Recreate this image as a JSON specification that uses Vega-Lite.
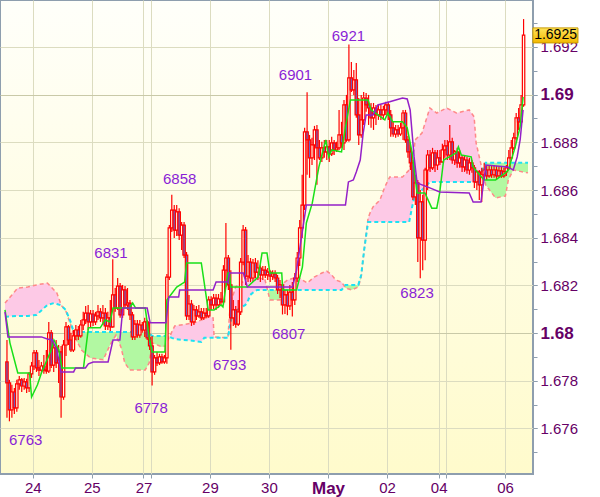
{
"$schema":"https://vega.github.io/schema/vega-lite/v6.json",
"width":533,"height":474,
"autosize":{"type":"none"},
"padding":{"left":0,"top":0,"right":67,"bottom":23},
"background":"#ffffff",
"view":{"fill":{"gradient":"linear","x1":0,"y1":0,"x2":0,"y2":1,"stops":[{"offset":0,"color":"#fffffa"},{"offset":1,"color":"#fffbcc"}]},"stroke":"#8e9eae","strokeWidth":2},
"datasets":{
"candles":[
{"t":0,"o":1.67879,"h":1.67971,"l":1.67645,"c":1.67791},
{"t":1,"o":1.67791,"h":1.67804,"l":1.6763,"c":1.67678},
{"t":2,"o":1.67678,"h":1.67783,"l":1.67645,"c":1.67753},
{"t":3,"o":1.67753,"h":1.6777,"l":1.67661,"c":1.67686},
{"t":4,"o":1.67686,"h":1.67804,"l":1.6767,"c":1.67787},
{"t":5,"o":1.67787,"h":1.6782,"l":1.67762,"c":1.67804},
{"t":6,"o":1.67804,"h":1.67812,"l":1.67753,"c":1.67778},
{"t":7,"o":1.67778,"h":1.67812,"l":1.67762,"c":1.67795},
{"t":8,"o":1.67795,"h":1.67808,"l":1.67749,"c":1.6777},
{"t":9,"o":1.6777,"h":1.67837,"l":1.67753,"c":1.67829},
{"t":10,"o":1.67829,"h":1.67879,"l":1.67812,"c":1.67862},
{"t":11,"o":1.67862,"h":1.67929,"l":1.67845,"c":1.67917},
{"t":12,"o":1.67917,"h":1.67929,"l":1.67837,"c":1.67854},
{"t":13,"o":1.67854,"h":1.67887,"l":1.6782,"c":1.67845},
{"t":14,"o":1.67845,"h":1.67879,"l":1.67829,"c":1.67862},
{"t":15,"o":1.67862,"h":1.67908,"l":1.67829,"c":1.67845},
{"t":16,"o":1.67845,"h":1.67929,"l":1.67829,"c":1.67841},
{"t":17,"o":1.67841,"h":1.68047,"l":1.67833,"c":1.68001},
{"t":18,"o":1.68001,"h":1.68013,"l":1.67854,"c":1.67866},
{"t":19,"o":1.67866,"h":1.67955,"l":1.67837,"c":1.67938},
{"t":20,"o":1.67938,"h":1.67971,"l":1.67854,"c":1.67875},
{"t":21,"o":1.67875,"h":1.6795,"l":1.67791,"c":1.67921},
{"t":22,"o":1.67921,"h":1.67946,"l":1.67645,"c":1.67732},
{"t":23,"o":1.67732,"h":1.67971,"l":1.6772,"c":1.6795},
{"t":24,"o":1.6795,"h":1.68047,"l":1.67904,"c":1.68026},
{"t":25,"o":1.68026,"h":1.68034,"l":1.6795,"c":1.67971},
{"t":26,"o":1.67971,"h":1.68001,"l":1.67921,"c":1.67929},
{"t":27,"o":1.67929,"h":1.68013,"l":1.67921,"c":1.67988},
{"t":28,"o":1.67988,"h":1.68034,"l":1.67971,"c":1.68013},
{"t":29,"o":1.68013,"h":1.6803,"l":1.67971,"c":1.67988},
{"t":30,"o":1.67988,"h":1.68055,"l":1.6798,"c":1.68034},
{"t":31,"o":1.68034,"h":1.68089,"l":1.68013,"c":1.68055},
{"t":32,"o":1.68055,"h":1.68114,"l":1.68038,"c":1.68084},
{"t":33,"o":1.68084,"h":1.68118,"l":1.68013,"c":1.68047},
{"t":34,"o":1.68047,"h":1.68097,"l":1.68022,"c":1.6808},
{"t":35,"o":1.6808,"h":1.68097,"l":1.6803,"c":1.68047},
{"t":36,"o":1.68047,"h":1.68089,"l":1.68034,"c":1.68072},
{"t":37,"o":1.68072,"h":1.68118,"l":1.68055,"c":1.68089},
{"t":38,"o":1.68089,"h":1.68105,"l":1.68047,"c":1.68064},
{"t":39,"o":1.68064,"h":1.68118,"l":1.68034,"c":1.68084},
{"t":40,"o":1.68084,"h":1.68105,"l":1.68013,"c":1.6803},
{"t":41,"o":1.6803,"h":1.68089,"l":1.68013,"c":1.68064},
{"t":42,"o":1.68064,"h":1.68139,"l":1.68009,"c":1.68026},
{"t":43,"o":1.68026,"h":1.6831,"l":1.68022,"c":1.6816},
{"t":44,"o":1.6816,"h":1.68189,"l":1.68089,"c":1.68105},
{"t":45,"o":1.68105,"h":1.68231,"l":1.68097,"c":1.68197},
{"t":46,"o":1.68197,"h":1.6821,"l":1.68064,"c":1.68076},
{"t":47,"o":1.68076,"h":1.68202,"l":1.68064,"c":1.68181},
{"t":48,"o":1.68181,"h":1.68197,"l":1.68105,"c":1.68118},
{"t":49,"o":1.68118,"h":1.68189,"l":1.68097,"c":1.68126},
{"t":50,"o":1.68126,"h":1.68139,"l":1.68055,"c":1.68076},
{"t":51,"o":1.68076,"h":1.68089,"l":1.67971,"c":1.67984},
{"t":52,"o":1.67984,"h":1.68055,"l":1.67971,"c":1.68038},
{"t":53,"o":1.68038,"h":1.68055,"l":1.6798,"c":1.67992},
{"t":54,"o":1.67992,"h":1.68055,"l":1.6798,"c":1.68034},
{"t":55,"o":1.68034,"h":1.68047,"l":1.68001,"c":1.68013},
{"t":56,"o":1.68013,"h":1.68064,"l":1.67984,"c":1.68047},
{"t":57,"o":1.68047,"h":1.68055,"l":1.67971,"c":1.6798},
{"t":58,"o":1.6798,"h":1.68047,"l":1.67929,"c":1.67946},
{"t":59,"o":1.67946,"h":1.67988,"l":1.6778,"c":1.67837},
{"t":60,"o":1.67837,"h":1.67908,"l":1.67825,"c":1.67896},
{"t":61,"o":1.67896,"h":1.67921,"l":1.67862,"c":1.67875},
{"t":62,"o":1.67875,"h":1.67913,"l":1.67866,"c":1.679},
{"t":63,"o":1.679,"h":1.67913,"l":1.67871,"c":1.67879},
{"t":64,"o":1.67879,"h":1.67908,"l":1.67871,"c":1.67896},
{"t":65,"o":1.67896,"h":1.68248,"l":1.67871,"c":1.68235},
{"t":66,"o":1.68235,"h":1.68453,"l":1.68223,"c":1.68441},
{"t":67,"o":1.68441,"h":1.6858,"l":1.68424,"c":1.68516},
{"t":68,"o":1.68516,"h":1.68537,"l":1.68399,"c":1.68432},
{"t":69,"o":1.68432,"h":1.68537,"l":1.68407,"c":1.68508},
{"t":70,"o":1.68508,"h":1.68524,"l":1.6839,"c":1.68411},
{"t":71,"o":1.68411,"h":1.68466,"l":1.68348,"c":1.68453},
{"t":72,"o":1.68453,"h":1.68466,"l":1.68315,"c":1.68327},
{"t":73,"o":1.68327,"h":1.6834,"l":1.68055,"c":1.68072},
{"t":74,"o":1.68072,"h":1.6816,"l":1.68055,"c":1.68122},
{"t":75,"o":1.68122,"h":1.68139,"l":1.6803,"c":1.68047},
{"t":76,"o":1.68047,"h":1.68118,"l":1.68034,"c":1.68097},
{"t":77,"o":1.68097,"h":1.68114,"l":1.68055,"c":1.68072},
{"t":78,"o":1.68072,"h":1.68118,"l":1.68064,"c":1.68089},
{"t":79,"o":1.68089,"h":1.68105,"l":1.68055,"c":1.68064},
{"t":80,"o":1.68064,"h":1.68105,"l":1.68055,"c":1.68084},
{"t":81,"o":1.68084,"h":1.68105,"l":1.68064,"c":1.68072},
{"t":82,"o":1.68072,"h":1.68155,"l":1.68064,"c":1.68139},
{"t":83,"o":1.68139,"h":1.68155,"l":1.68097,"c":1.68118},
{"t":84,"o":1.68118,"h":1.68164,"l":1.68101,"c":1.68147},
{"t":85,"o":1.68147,"h":1.68164,"l":1.68097,"c":1.68118},
{"t":86,"o":1.68118,"h":1.68164,"l":1.68105,"c":1.68143},
{"t":87,"o":1.68143,"h":1.68172,"l":1.68114,"c":1.68131},
{"t":88,"o":1.68131,"h":1.68285,"l":1.68118,"c":1.68264},
{"t":89,"o":1.68264,"h":1.68462,"l":1.68193,"c":1.68315},
{"t":90,"o":1.68315,"h":1.68327,"l":1.68181,"c":1.68202},
{"t":91,"o":1.68202,"h":1.68264,"l":1.6793,"c":1.68064},
{"t":92,"o":1.68064,"h":1.68139,"l":1.6803,"c":1.68097},
{"t":93,"o":1.68097,"h":1.68114,"l":1.68022,"c":1.68038},
{"t":94,"o":1.68038,"h":1.68139,"l":1.6803,"c":1.68089},
{"t":95,"o":1.68089,"h":1.68315,"l":1.68076,"c":1.68298},
{"t":96,"o":1.68298,"h":1.68453,"l":1.68285,"c":1.68432},
{"t":97,"o":1.68432,"h":1.68445,"l":1.68202,"c":1.68239},
{"t":98,"o":1.68239,"h":1.68327,"l":1.68214,"c":1.68298},
{"t":99,"o":1.68298,"h":1.68315,"l":1.68214,"c":1.68231},
{"t":100,"o":1.68231,"h":1.68311,"l":1.68214,"c":1.68294},
{"t":101,"o":1.68294,"h":1.68315,"l":1.68231,"c":1.68256},
{"t":102,"o":1.68256,"h":1.68306,"l":1.68223,"c":1.68273},
{"t":103,"o":1.68273,"h":1.68285,"l":1.68214,"c":1.68244},
{"t":104,"o":1.68244,"h":1.68281,"l":1.68223,"c":1.68264},
{"t":105,"o":1.68264,"h":1.68281,"l":1.68231,"c":1.68244},
{"t":106,"o":1.68244,"h":1.68273,"l":1.68223,"c":1.68256},
{"t":107,"o":1.68256,"h":1.68264,"l":1.68214,"c":1.68239},
{"t":108,"o":1.68239,"h":1.68264,"l":1.68223,"c":1.68248},
{"t":109,"o":1.68248,"h":1.68264,"l":1.68214,"c":1.68231},
{"t":110,"o":1.68231,"h":1.68244,"l":1.68164,"c":1.68181},
{"t":111,"o":1.68181,"h":1.68223,"l":1.68147,"c":1.68202},
{"t":112,"o":1.68202,"h":1.68214,"l":1.68078,"c":1.68118},
{"t":113,"o":1.68118,"h":1.68181,"l":1.6808,"c":1.6816},
{"t":114,"o":1.6816,"h":1.68181,"l":1.68075,"c":1.68114},
{"t":115,"o":1.68114,"h":1.68202,"l":1.68097,"c":1.68172},
{"t":116,"o":1.68172,"h":1.68214,"l":1.6807,"c":1.68139},
{"t":117,"o":1.68139,"h":1.68252,"l":1.68118,"c":1.68231},
{"t":118,"o":1.68231,"h":1.6834,"l":1.68214,"c":1.68315},
{"t":119,"o":1.68315,"h":1.68474,"l":1.68281,"c":1.68441},
{"t":120,"o":1.68441,"h":1.68664,"l":1.68399,"c":1.68537},
{"t":121,"o":1.68537,"h":1.68861,"l":1.68516,"c":1.68844},
{"t":122,"o":1.68844,"h":1.6901,"l":1.68664,"c":1.6881},
{"t":123,"o":1.6881,"h":1.68831,"l":1.68651,"c":1.68735},
{"t":124,"o":1.68735,"h":1.68819,"l":1.68705,"c":1.68789},
{"t":125,"o":1.68789,"h":1.68869,"l":1.68726,"c":1.68852},
{"t":126,"o":1.68852,"h":1.68873,"l":1.68622,"c":1.68777},
{"t":127,"o":1.68777,"h":1.6881,"l":1.68726,"c":1.68735},
{"t":128,"o":1.68735,"h":1.68802,"l":1.68718,"c":1.68777},
{"t":129,"o":1.68777,"h":1.6881,"l":1.68735,"c":1.6876},
{"t":130,"o":1.6876,"h":1.6881,"l":1.68726,"c":1.68781},
{"t":131,"o":1.68781,"h":1.6881,"l":1.68718,"c":1.68752},
{"t":132,"o":1.68752,"h":1.68823,"l":1.68743,"c":1.68798},
{"t":133,"o":1.68798,"h":1.6881,"l":1.68747,"c":1.68768},
{"t":134,"o":1.68768,"h":1.68802,"l":1.6876,"c":1.68777},
{"t":135,"o":1.68777,"h":1.68936,"l":1.68768,"c":1.68831},
{"t":136,"o":1.68831,"h":1.68886,"l":1.68777,"c":1.68798},
{"t":137,"o":1.68798,"h":1.68978,"l":1.68768,"c":1.68957},
{"t":138,"o":1.68957,"h":1.68999,"l":1.68802,"c":1.6881},
{"t":139,"o":1.6881,"h":1.6921,"l":1.68802,"c":1.6907},
{"t":140,"o":1.6907,"h":1.69137,"l":1.69011,"c":1.6902},
{"t":141,"o":1.6902,"h":1.69103,"l":1.68999,"c":1.69062},
{"t":142,"o":1.69062,"h":1.69133,"l":1.68903,"c":1.68915},
{"t":143,"o":1.68915,"h":1.68986,"l":1.68789,"c":1.68831},
{"t":144,"o":1.68831,"h":1.68999,"l":1.68819,"c":1.68894},
{"t":145,"o":1.68894,"h":1.69011,"l":1.68873,"c":1.68986},
{"t":146,"o":1.68986,"h":1.69007,"l":1.68928,"c":1.68957},
{"t":147,"o":1.68957,"h":1.68999,"l":1.68873,"c":1.68944},
{"t":148,"o":1.68944,"h":1.68965,"l":1.68861,"c":1.68903},
{"t":149,"o":1.68903,"h":1.68965,"l":1.68852,"c":1.68944},
{"t":150,"o":1.68944,"h":1.68957,"l":1.68873,"c":1.68915},
{"t":151,"o":1.68915,"h":1.68961,"l":1.68894,"c":1.68936},
{"t":152,"o":1.68936,"h":1.68957,"l":1.68894,"c":1.68915},
{"t":153,"o":1.68915,"h":1.68953,"l":1.68894,"c":1.68936},
{"t":154,"o":1.68936,"h":1.6897,"l":1.68915,"c":1.68957},
{"t":155,"o":1.68957,"h":1.6897,"l":1.68894,"c":1.68915},
{"t":156,"o":1.68915,"h":1.68936,"l":1.68823,"c":1.68861},
{"t":157,"o":1.68861,"h":1.68886,"l":1.68823,"c":1.68835},
{"t":158,"o":1.68835,"h":1.68873,"l":1.68819,"c":1.68852},
{"t":159,"o":1.68852,"h":1.68873,"l":1.68823,"c":1.68835},
{"t":160,"o":1.68835,"h":1.68882,"l":1.68827,"c":1.68861},
{"t":161,"o":1.68861,"h":1.68936,"l":1.6881,"c":1.68923},
{"t":162,"o":1.68923,"h":1.68936,"l":1.68798,"c":1.6881},
{"t":163,"o":1.6881,"h":1.68827,"l":1.68735,"c":1.6876},
{"t":164,"o":1.6876,"h":1.68789,"l":1.68684,"c":1.68714},
{"t":165,"o":1.68714,"h":1.68726,"l":1.68558,"c":1.68571},
{"t":166,"o":1.68571,"h":1.68664,"l":1.68537,"c":1.6863},
{"t":167,"o":1.6863,"h":1.68642,"l":1.68298,"c":1.68399},
{"t":168,"o":1.68399,"h":1.686,"l":1.6823,"c":1.6855},
{"t":169,"o":1.6855,"h":1.6858,"l":1.68264,"c":1.6839},
{"t":170,"o":1.6839,"h":1.68693,"l":1.68306,"c":1.68684},
{"t":171,"o":1.68684,"h":1.68768,"l":1.686,"c":1.68747},
{"t":172,"o":1.68747,"h":1.68768,"l":1.68676,"c":1.68693},
{"t":173,"o":1.68693,"h":1.68777,"l":1.68684,"c":1.68756},
{"t":174,"o":1.68756,"h":1.68768,"l":1.68676,"c":1.68705},
{"t":175,"o":1.68705,"h":1.68768,"l":1.68684,"c":1.68735},
{"t":176,"o":1.68735,"h":1.68768,"l":1.68705,"c":1.68718},
{"t":177,"o":1.68718,"h":1.68794,"l":1.68714,"c":1.68768},
{"t":178,"o":1.68768,"h":1.6881,"l":1.68735,"c":1.68785},
{"t":179,"o":1.68785,"h":1.6881,"l":1.68726,"c":1.68747},
{"t":180,"o":1.68747,"h":1.68873,"l":1.68726,"c":1.68802},
{"t":181,"o":1.68802,"h":1.68819,"l":1.6871,"c":1.68726},
{"t":182,"o":1.68726,"h":1.68768,"l":1.68705,"c":1.6876},
{"t":183,"o":1.6876,"h":1.68777,"l":1.68693,"c":1.68714},
{"t":184,"o":1.68714,"h":1.68768,"l":1.68693,"c":1.68735},
{"t":185,"o":1.68735,"h":1.68747,"l":1.68676,"c":1.68697},
{"t":186,"o":1.68697,"h":1.68747,"l":1.68676,"c":1.68726},
{"t":187,"o":1.68726,"h":1.68739,"l":1.68668,"c":1.68684},
{"t":188,"o":1.68684,"h":1.68735,"l":1.68664,"c":1.68714},
{"t":189,"o":1.68714,"h":1.68726,"l":1.68672,"c":1.68693},
{"t":190,"o":1.68693,"h":1.68705,"l":1.68609,"c":1.68634},
{"t":191,"o":1.68634,"h":1.68684,"l":1.686,"c":1.68676},
{"t":192,"o":1.68676,"h":1.68684,"l":1.68558,"c":1.68622},
{"t":193,"o":1.68622,"h":1.68693,"l":1.6855,"c":1.68664},
{"t":194,"o":1.68664,"h":1.68714,"l":1.68642,"c":1.68684},
{"t":195,"o":1.68684,"h":1.68705,"l":1.68642,"c":1.68659},
{"t":196,"o":1.68659,"h":1.68705,"l":1.68651,"c":1.68684},
{"t":197,"o":1.68684,"h":1.68701,"l":1.68651,"c":1.68664},
{"t":198,"o":1.68664,"h":1.68705,"l":1.68651,"c":1.68684},
{"t":199,"o":1.68684,"h":1.68701,"l":1.68642,"c":1.68659},
{"t":200,"o":1.68659,"h":1.68697,"l":1.68651,"c":1.6868},
{"t":201,"o":1.6868,"h":1.68701,"l":1.68651,"c":1.68659},
{"t":202,"o":1.68659,"h":1.68693,"l":1.68651,"c":1.68676},
{"t":203,"o":1.68676,"h":1.68705,"l":1.68659,"c":1.68693},
{"t":204,"o":1.68693,"h":1.68768,"l":1.68684,"c":1.68735},
{"t":205,"o":1.68735,"h":1.6881,"l":1.68726,"c":1.68777},
{"t":206,"o":1.68777,"h":1.6884,"l":1.68768,"c":1.68819},
{"t":207,"o":1.68819,"h":1.68923,"l":1.6881,"c":1.68903},
{"t":208,"o":1.68903,"h":1.68944,"l":1.68852,"c":1.68886},
{"t":209,"o":1.68886,"h":1.68999,"l":1.68873,"c":1.68957},
{"t":210,"o":1.68957,"h":1.69317,"l":1.68949,"c":1.6925}
],
"tenkan":[
{"t":-0.8,"v":1.68097},{"t":1.2,"v":1.67959},{"t":4.4,"v":1.67833},{"t":9.2,"v":1.67833},{"t":10.0,"v":1.67732},{"t":12.4,"v":1.67783},{"t":14.0,"v":1.67833},{"t":18.0,"v":1.67929},{"t":19.1,"v":1.67971},{"t":21.1,"v":1.67929},{"t":22.3,"v":1.67854},{"t":31.1,"v":1.67854},{"t":33.1,"v":1.68022},{"t":37.9,"v":1.68022},{"t":39.9,"v":1.68055},{"t":41.9,"v":1.68047},{"t":43.1,"v":1.68105},{"t":49.9,"v":1.68105},{"t":51.1,"v":1.68126},{"t":52.3,"v":1.68105},{"t":56.2,"v":1.68105},{"t":57.8,"v":1.67984},{"t":59.0,"v":1.67921},{"t":64.2,"v":1.67921},{"t":65.0,"v":1.68139},{"t":69.0,"v":1.68193},{"t":72.2,"v":1.68214},{"t":73.0,"v":1.68294},{"t":79.0,"v":1.68294},{"t":81.8,"v":1.68097},{"t":84.2,"v":1.68097},{"t":87.0,"v":1.68118},{"t":87.8,"v":1.6811},{"t":89.8,"v":1.68252},{"t":90.5,"v":1.68252},{"t":90.9,"v":1.68193},{"t":97.7,"v":1.68193},{"t":102.1,"v":1.68235},{"t":103.7,"v":1.68336},{"t":105.7,"v":1.68336},{"t":106.9,"v":1.68252},{"t":111.7,"v":1.68252},{"t":112.1,"v":1.68181},{"t":117.7,"v":1.68181},{"t":120.1,"v":1.68277},{"t":121.7,"v":1.68462},{"t":124.1,"v":1.68545},{"t":126.8,"v":1.68697},{"t":129.6,"v":1.6881},{"t":130.8,"v":1.68739},{"t":132.0,"v":1.68768},{"t":136.0,"v":1.6876},{"t":137.6,"v":1.68865},{"t":139.6,"v":1.68978},{"t":146.8,"v":1.68978},{"t":148.0,"v":1.68936},{"t":150.8,"v":1.68915},{"t":153.6,"v":1.68894},{"t":154.8,"v":1.68923},{"t":156.8,"v":1.68886},{"t":160.8,"v":1.68886},{"t":162.7,"v":1.68861},{"t":164.7,"v":1.68756},{"t":166.7,"v":1.68588},{"t":169.9,"v":1.68588},{"t":172.7,"v":1.68524},{"t":174.7,"v":1.68524},{"t":175.9,"v":1.68588},{"t":177.5,"v":1.68726},{"t":182.7,"v":1.68756},{"t":183.5,"v":1.68781},{"t":184.7,"v":1.68747},{"t":188.7,"v":1.68739},{"t":189.5,"v":1.68697},{"t":193.9,"v":1.68642},{"t":198.6,"v":1.68642},{"t":202.6,"v":1.68672},{"t":203.8,"v":1.68684},{"t":206.6,"v":1.68781},{"t":208.6,"v":1.68865},{"t":209.8,"v":1.6899}
],
"kijun":[
{"t":-0.8,"v":1.68089},{"t":0.4,"v":1.67984},{"t":14.0,"v":1.67984},{"t":16.4,"v":1.67975},{"t":18.4,"v":1.67971},{"t":20.3,"v":1.67929},{"t":21.9,"v":1.67837},{"t":27.1,"v":1.67837},{"t":27.9,"v":1.67854},{"t":31.9,"v":1.67854},{"t":33.1,"v":1.67871},{"t":35.1,"v":1.67879},{"t":41.1,"v":1.67879},{"t":43.1,"v":1.67971},{"t":45.9,"v":1.67971},{"t":47.1,"v":1.68105},{"t":57.0,"v":1.68105},{"t":58.2,"v":1.68043},{"t":64.6,"v":1.68043},{"t":65.8,"v":1.68151},{"t":69.8,"v":1.68151},{"t":70.2,"v":1.68181},{"t":83.8,"v":1.68181},{"t":85.0,"v":1.68214},{"t":89.8,"v":1.68214},{"t":90.5,"v":1.68252},{"t":96.1,"v":1.68252},{"t":97.7,"v":1.68193},{"t":116.1,"v":1.68193},{"t":117.7,"v":1.68264},{"t":121.7,"v":1.68537},{"t":137.6,"v":1.68537},{"t":138.8,"v":1.68634},{"t":140.8,"v":1.68642},{"t":142.0,"v":1.68676},{"t":143.6,"v":1.68726},{"t":144.8,"v":1.68839},{"t":146.0,"v":1.68915},{"t":148.8,"v":1.68915},{"t":150.8,"v":1.68957},{"t":155.6,"v":1.6897},{"t":160.8,"v":1.68986},{"t":162.7,"v":1.68982},{"t":163.9,"v":1.68936},{"t":165.5,"v":1.68739},{"t":166.7,"v":1.6863},{"t":171.9,"v":1.68609},{"t":175.9,"v":1.68592},{"t":187.9,"v":1.68588},{"t":189.5,"v":1.6855},{"t":192.7,"v":1.6855},{"t":194.7,"v":1.68705},{"t":203.4,"v":1.68697},{"t":205.8,"v":1.68684},{"t":207.4,"v":1.68739},{"t":208.6,"v":1.6881},{"t":209.8,"v":1.68936}
],
"cloud":[
{"t":-0.8,"a":1.68068,"b":1.68126,"s":1,"k":"bear"},
{"t":4.4,"a":1.68072,"b":1.68189,"s":1,"k":"bear"},
{"t":8.4,"a":1.68072,"b":1.68193,"s":1,"k":"bear"},
{"t":12.0,"a":1.68076,"b":1.68202,"s":1,"k":"bear"},
{"t":16.4,"a":1.68118,"b":1.6821,"s":1,"k":"bear"},
{"t":19.1,"a":1.68126,"b":1.68181,"s":1,"k":"bear"},
{"t":20.3,"a":1.68122,"b":1.68168,"s":1,"k":"bear"},
{"t":22.1,"a":1.68116,"b":1.68116,"s":1,"k":"bear"},
{"t":22.1,"a":1.68116,"b":1.68116,"s":2,"k":"bull"},
{"t":23.9,"a":1.68097,"b":1.68093,"s":2,"k":"bull"},
{"t":25.9,"a":1.68047,"b":1.68034,"s":2,"k":"bull"},
{"t":27.1,"a":1.68005,"b":1.67992,"s":2,"k":"bull"},
{"t":30.3,"a":1.68005,"b":1.67929,"s":2,"k":"bull"},
{"t":33.9,"a":1.68005,"b":1.67896,"s":2,"k":"bull"},
{"t":39.1,"a":1.68005,"b":1.67888,"s":2,"k":"bull"},
{"t":41.9,"a":1.68005,"b":1.6795,"s":2,"k":"bull"},
{"t":43.1,"a":1.68005,"b":1.67971,"s":2,"k":"bull"},
{"t":44.3,"a":1.68005,"b":1.67992,"s":2,"k":"bull"},
{"t":46.3,"a":1.68005,"b":1.67942,"s":2,"k":"bull"},
{"t":47.9,"a":1.68005,"b":1.67875,"s":2,"k":"bull"},
{"t":49.9,"a":1.68005,"b":1.67845,"s":2,"k":"bull"},
{"t":56.2,"a":1.68001,"b":1.67845,"s":2,"k":"bull"},
{"t":57.8,"a":1.68001,"b":1.67875,"s":2,"k":"bull"},
{"t":59.0,"a":1.67988,"b":1.67959,"s":2,"k":"bull"},
{"t":63.0,"a":1.67988,"b":1.67942,"s":2,"k":"bull"},
{"t":64.2,"a":1.67988,"b":1.67946,"s":2,"k":"bull"},
{"t":65.8,"a":1.67988,"b":1.6798,"s":2,"k":"bull"},
{"t":66.2,"a":1.67984,"b":1.67984,"s":2,"k":"bull"},
{"t":66.2,"a":1.67984,"b":1.67984,"s":3,"k":"bear"},
{"t":67.0,"a":1.6798,"b":1.68005,"s":3,"k":"bear"},
{"t":68.2,"a":1.67975,"b":1.6803,"s":3,"k":"bear"},
{"t":76.2,"a":1.67967,"b":1.68043,"s":3,"k":"bear"},
{"t":79.0,"a":1.67963,"b":1.68055,"s":3,"k":"bear"},
{"t":80.2,"a":1.6798,"b":1.68059,"s":3,"k":"bear"},
{"t":81.8,"a":1.6798,"b":1.68068,"s":3,"k":"bear"},
{"t":83.8,"a":1.6798,"b":1.68064,"s":3,"k":"bear"},
{"t":84.2,"a":1.6798,"b":1.67984,"s":3,"k":"bear"},
{"t":89.8,"a":1.6798,"b":1.6798,"s":3,"k":"bear"},
{"t":90.9,"a":1.68043,"b":1.68139,"s":3,"k":"bear"},
{"t":91.7,"a":1.68084,"b":1.68151,"s":3,"k":"bear"},
{"t":92.9,"a":1.68093,"b":1.68193,"s":3,"k":"bear"},
{"t":96.9,"a":1.68118,"b":1.68223,"s":3,"k":"bear"},
{"t":98.1,"a":1.68139,"b":1.68235,"s":3,"k":"bear"},
{"t":98.9,"a":1.6816,"b":1.68235,"s":3,"k":"bear"},
{"t":100.9,"a":1.68177,"b":1.68239,"s":3,"k":"bear"},
{"t":101.7,"a":1.68181,"b":1.68235,"s":3,"k":"bear"},
{"t":104.9,"a":1.68181,"b":1.68223,"s":3,"k":"bear"},
{"t":105.9,"a":1.68181,"b":1.68181,"s":3,"k":"bear"},
{"t":105.9,"a":1.68181,"b":1.68181,"s":4,"k":"bull"},
{"t":106.9,"a":1.68181,"b":1.68139,"s":4,"k":"bull"},
{"t":110.9,"a":1.68181,"b":1.68139,"s":4,"k":"bull"},
{"t":111.8,"a":1.68181,"b":1.68181,"s":4,"k":"bull"},
{"t":111.8,"a":1.68181,"b":1.68181,"s":5,"k":"bear"},
{"t":112.5,"a":1.68181,"b":1.6821,"s":5,"k":"bear"},
{"t":114.1,"a":1.68181,"b":1.68223,"s":5,"k":"bear"},
{"t":118.1,"a":1.68181,"b":1.68235,"s":5,"k":"bear"},
{"t":122.1,"a":1.68181,"b":1.6821,"s":5,"k":"bear"},
{"t":124.9,"a":1.68181,"b":1.68235,"s":5,"k":"bear"},
{"t":128.0,"a":1.68181,"b":1.68252,"s":5,"k":"bear"},
{"t":130.0,"a":1.68181,"b":1.6826,"s":5,"k":"bear"},
{"t":132.0,"a":1.68181,"b":1.68244,"s":5,"k":"bear"},
{"t":133.6,"a":1.68181,"b":1.68223,"s":5,"k":"bear"},
{"t":136.0,"a":1.68181,"b":1.68214,"s":5,"k":"bear"},
{"t":137.2,"a":1.68196,"b":1.68196,"s":5,"k":"bear"},
{"t":137.2,"a":1.68196,"b":1.68196,"s":6,"k":"bull"},
{"t":137.6,"a":1.68202,"b":1.68189,"s":6,"k":"bull"},
{"t":140.0,"a":1.68202,"b":1.68181,"s":6,"k":"bull"},
{"t":142.8,"a":1.68202,"b":1.68193,"s":6,"k":"bull"},
{"t":144.0,"a":1.68244,"b":1.68235,"s":6,"k":"bull"},
{"t":145.2,"a":1.68349,"b":1.68349,"s":6,"k":"bull"},
{"t":145.2,"a":1.68349,"b":1.68349,"s":7,"k":"bear"},
{"t":146.8,"a":1.68466,"b":1.68483,"s":7,"k":"bear"},
{"t":147.6,"a":1.68466,"b":1.68504,"s":7,"k":"bear"},
{"t":148.8,"a":1.68466,"b":1.68529,"s":7,"k":"bear"},
{"t":151.6,"a":1.68466,"b":1.68558,"s":7,"k":"bear"},
{"t":153.6,"a":1.68466,"b":1.68613,"s":7,"k":"bear"},
{"t":155.6,"a":1.68466,"b":1.68655,"s":7,"k":"bear"},
{"t":160.8,"a":1.68466,"b":1.68655,"s":7,"k":"bear"},
{"t":163.5,"a":1.68466,"b":1.68684,"s":7,"k":"bear"},
{"t":164.7,"a":1.68529,"b":1.68739,"s":7,"k":"bear"},
{"t":165.5,"a":1.68567,"b":1.68768,"s":7,"k":"bear"},
{"t":165.9,"a":1.68571,"b":1.6881,"s":7,"k":"bear"},
{"t":168.7,"a":1.686,"b":1.68839,"s":7,"k":"bear"},
{"t":171.9,"a":1.68634,"b":1.68944,"s":7,"k":"bear"},
{"t":174.7,"a":1.68634,"b":1.68923,"s":7,"k":"bear"},
{"t":178.7,"a":1.68634,"b":1.68944,"s":7,"k":"bear"},
{"t":182.7,"a":1.68634,"b":1.68923,"s":7,"k":"bear"},
{"t":187.9,"a":1.68634,"b":1.68936,"s":7,"k":"bear"},
{"t":189.9,"a":1.68634,"b":1.68907,"s":7,"k":"bear"},
{"t":190.7,"a":1.68634,"b":1.68798,"s":7,"k":"bear"},
{"t":193.2,"a":1.68684,"b":1.68684,"s":7,"k":"bear"},
{"t":193.2,"a":1.68684,"b":1.68684,"s":8,"k":"bull"},
{"t":194.6,"a":1.68714,"b":1.68621,"s":8,"k":"bull"},
{"t":198.6,"a":1.68714,"b":1.68567,"s":8,"k":"bull"},
{"t":202.6,"a":1.68714,"b":1.68575,"s":8,"k":"bull"},
{"t":203.8,"a":1.68714,"b":1.68642,"s":8,"k":"bull"},
{"t":205.8,"a":1.68714,"b":1.68684,"s":8,"k":"bull"},
{"t":209.8,"a":1.68714,"b":1.68676,"s":8,"k":"bull"},
{"t":211.8,"a":1.68714,"b":1.68672,"s":8,"k":"bull"}
],
"extremes":[
{"t":7.6,"p":1.67552,"s":"6763"},
{"t":58.6,"p":1.67686,"s":"6778"},
{"t":42.3,"p":1.68336,"s":"6831"},
{"t":70.2,"p":1.68647,"s":"6858"},
{"t":90.5,"p":1.67866,"s":"6793"},
{"t":114.5,"p":1.67996,"s":"6807"},
{"t":117.3,"p":1.69083,"s":"6901"},
{"t":138.8,"p":1.69246,"s":"6921"},
{"t":166.7,"p":1.68168,"s":"6823"}
],
"last":[{"p":1.6925,"s":"1.6925"}]
},
"resolve":{"axis":{"y":"independent"}},
"layer":[
{"layer":[
{"data":{"name":"cloud"},
 "mark":{"type":"area","opacity":1},
 "encoding":{
  "x":{"field":"t","type":"quantitative","title":null,"scale":{"domain":[-0.8,211.8],"nice":false,"zero":false},
   "axis":{"orient":"bottom","values":[10.5,34.5,55.5,58.5,82.5,106.5,130.5,154.5,175.5,178.5,202.5],
    "labelExpr":"datum.value==10.5?'24':datum.value==34.5?'25':datum.value==55.5?'27':datum.value==82.5?'29':datum.value==106.5?'30':datum.value==130.5?'May':datum.value==154.5?'02':datum.value==175.5?'04':datum.value==202.5?'06':''",
    "labelFont":"Liberation Sans","labelFontSize":{"condition":{"test":"datum.value==130.5","value":17},"value":15},
    "labelFontWeight":{"condition":{"test":"datum.value==130.5","value":"bold"},"value":"normal"},
    "labelColor":"#660066","labelPadding":2,"tickSize":4,"tickColor":"#8e9eae","domain":false,
    "grid":true,"gridColor":"#dcdcc0","gridWidth":1,"labelOverlap":false,"labelFlush":false,"title":null}},
  "y":{"field":"a","type":"quantitative","title":null,"scale":{"domain":[1.67409,1.69397],"nice":false,"zero":false},
   "axis":{"orient":"right","values":[1.676,1.678,1.68,1.682,1.684,1.686,1.688,1.69,1.692],
    "format":".3~f",
    "labelFont":"Liberation Sans","labelFontSize":{"condition":{"test":"datum.value==1.69||datum.value==1.68","value":17},"value":15},
    "labelFontWeight":{"condition":{"test":"datum.value==1.69||datum.value==1.68","value":"bold"},"value":"normal"},
    "labelColor":"#660066","labelPadding":3,"tickSize":4,"tickColor":"#8e9eae","domain":false,
    "grid":true,"gridColor":{"condition":{"test":"datum.value==1.69||datum.value==1.68","value":"#c9c9a8"},"value":"#dcdcc0"},
    "labelOverlap":false,"labelFlush":false,"title":null}},
  "y2":{"field":"b"},
  "detail":{"field":"s","type":"nominal"},
  "color":{"field":"k","type":"nominal","scale":{"domain":["bear","bull"],"range":["#fdc9e6","#b2f8a2"]},"legend":null}
 }},
{"data":{"name":"cloud"},
 "mark":{"type":"line","color":"#ff8888","strokeWidth":1.5,"strokeDash":[4,3]},
 "encoding":{
  "x":{"field":"t","type":"quantitative","title":null,"scale":{"domain":[-0.8,211.8],"nice":false,"zero":false}},
  "y":{"field":"b","type":"quantitative","title":null,"scale":{"domain":[1.67409,1.69397],"nice":false,"zero":false}}
 }},
{"data":{"name":"cloud"},
 "mark":{"type":"line","color":"#1ee2f2","strokeWidth":2,"strokeDash":[4,3]},
 "encoding":{
  "x":{"field":"t","type":"quantitative","title":null,"scale":{"domain":[-0.8,211.8],"nice":false,"zero":false}},
  "y":{"field":"a","type":"quantitative","title":null,"scale":{"domain":[1.67409,1.69397],"nice":false,"zero":false}}
 }},
{"data":{"name":"candles"},
 "mark":{"type":"rule","color":"#ff0000","strokeWidth":1.2},
 "encoding":{
  "x":{"field":"t","type":"quantitative","title":null,"scale":{"domain":[-0.8,211.8],"nice":false,"zero":false}},
  "y":{"field":"l","type":"quantitative","title":null,"scale":{"domain":[1.67409,1.69397],"nice":false,"zero":false}},
  "y2":{"field":"h"}
 }},
{"data":{"name":"candles"},
 "mark":{"type":"bar","width":2.4,"stroke":"#ff0000","strokeWidth":1.2},
 "encoding":{
  "x":{"field":"t","type":"quantitative","title":null,"scale":{"domain":[-0.8,211.8],"nice":false,"zero":false}},
  "y":{"field":"o","type":"quantitative","title":null,"scale":{"domain":[1.67409,1.69397],"nice":false,"zero":false}},
  "y2":{"field":"c"},
  "fill":{"condition":{"test":"datum.c<datum.o","value":"#7060c0"},"value":"#fffde8"}
 }},
{"data":{"name":"tenkan"},
 "mark":{"type":"line","color":"#18e018","strokeWidth":1.5},
 "encoding":{
  "x":{"field":"t","type":"quantitative","title":null,"scale":{"domain":[-0.8,211.8],"nice":false,"zero":false}},
  "y":{"field":"v","type":"quantitative","title":null,"scale":{"domain":[1.67409,1.69397],"nice":false,"zero":false}}
 }},
{"data":{"name":"kijun"},
 "mark":{"type":"line","color":"#9420c8","strokeWidth":1.5},
 "encoding":{
  "x":{"field":"t","type":"quantitative","title":null,"scale":{"domain":[-0.8,211.8],"nice":false,"zero":false}},
  "y":{"field":"v","type":"quantitative","title":null,"scale":{"domain":[1.67409,1.69397],"nice":false,"zero":false}}
 }},
{"data":{"name":"extremes"},
 "mark":{"type":"text","font":"Liberation Sans","fontSize":15,"color":"#8a1fd6","align":"center","baseline":"middle"},
 "encoding":{
  "x":{"field":"t","type":"quantitative","title":null,"scale":{"domain":[-0.8,211.8],"nice":false,"zero":false}},
  "y":{"field":"p","type":"quantitative","title":null,"scale":{"domain":[1.67409,1.69397],"nice":false,"zero":false}},
  "text":{"field":"s","type":"nominal"}
 }},
{"data":{"name":"last"},
 "mark":{"type":"rect","stroke":"#c89a00","strokeWidth":1,"color":{"gradient":"linear","x1":0,"y1":0,"x2":0,"y2":1,"stops":[{"offset":0,"color":"#ffe45a"},{"offset":1,"color":"#f2b800"}]}},
 "encoding":{
  "x":{"datum":213.8,"type":"quantitative","title":null,"scale":{"domain":[-0.8,211.8],"nice":false,"zero":false}},
  "x2":{"datum":232.1},
  "y":{"datum":1.6928,"type":"quantitative","title":null,"scale":{"domain":[1.67409,1.69397],"nice":false,"zero":false}},
  "y2":{"datum":1.69217}
 }},
{"data":{"name":"last"},
 "mark":{"type":"text","font":"Liberation Sans","fontSize":14,"color":"#000000","align":"center","baseline":"middle"},
 "encoding":{
  "x":{"datum":223,"type":"quantitative","title":null,"scale":{"domain":[-0.8,211.8],"nice":false,"zero":false}},
  "y":{"field":"p","type":"quantitative","title":null,"scale":{"domain":[1.67409,1.69397],"nice":false,"zero":false}},
  "text":{"field":"s","type":"nominal"}
 }}
]},
{"data":{"name":"last"},
 "mark":{"type":"rule","opacity":0},
 "encoding":{
  "y":{"field":"p","type":"quantitative","title":null,"scale":{"domain":[1.67409,1.69397],"nice":false,"zero":false},
   "axis":{"orient":"right","values":[1.675,1.676,1.677,1.678,1.679,1.68,1.681,1.682,1.683,1.684,1.685,1.686,1.687,1.688,1.689,1.69,1.691,1.692,1.693],
    "labels":false,"grid":false,"domain":false,"tickSize":4,"tickColor":"#8e9eae","title":null,"zindex":0}}
 }}
]
}
